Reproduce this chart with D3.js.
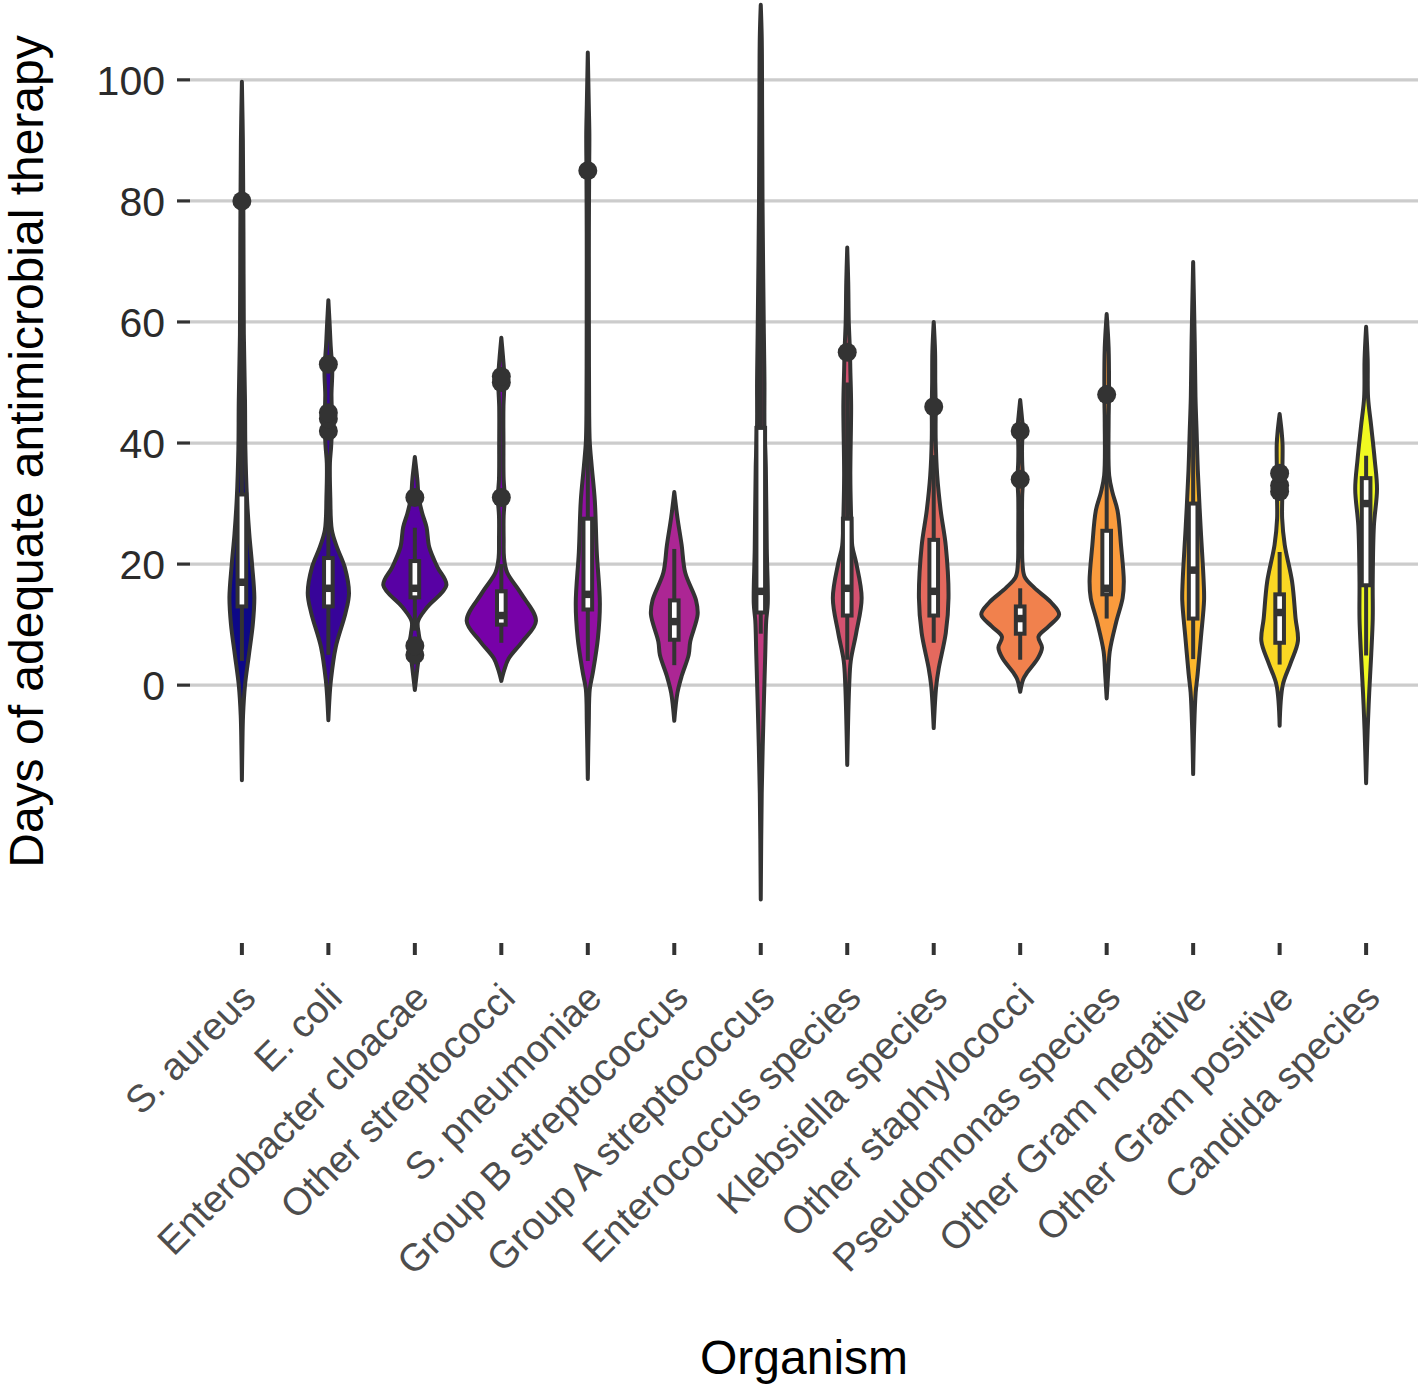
<!DOCTYPE html>
<html><head><meta charset="utf-8">
<script src="https://cdn.jsdelivr.net/npm/d3@7"></script>
<style>body{margin:0;background:#fff}text{font-family:"Liberation Sans",Arial,Helvetica,sans-serif}</style>
</head><body>
<svg id="chart" width="1424" height="1387"></svg>
<script>
const categories = ["S. aureus","E. coli","Enterobacter cloacae","Other streptococci","S. pneumoniae","Group B streptococcus","Group A streptococcus","Enterococcus species","Klebsiella species","Other staphylococci","Pseudomonas species","Other Gram negative","Other Gram positive","Candida species"];
const q1 =          [13,   13, 14.5, 10,   12.5, 7.5, 12,   11.5, 11.5, 8.5, 15,   11, 7,   16.5];
const medians =     [17,   16, 16,   11.5, 15,   10.5,15.5, 16,   15.5, 11,  16,   19, 12,  30];
const q3 =          [31.5, 21, 20.5, 15.5, 27.5, 14,  42.5, 27.5, 24,   13,  25.5, 30, 15,  34.2];
const whiskerLow =  [4,    5,  9,    7,    4,    3.3, 8.5,  4.2,  7,    4.2, 11,   4.3,3.4, 4.9];
const whiskerHigh = [57,   33, 26,   20,   48,   22.5,80,   50,   38,   16,  40,   55, 22,  37.9];
const outliers = [[80],[42,44,45,53],[5,6.5,31],[31,50,51],[85],[],[],[55],[46],[34,42],[48],[],[32,33,35],[]];
// violin density profiles: [value, relative density]
const densities = [
 [[-15.7,0],[-10,0.013],[-5,0.03],[0,0.08],[5,0.18],[10,0.28],[14.5,0.32],[20,0.26],[25,0.19],[31,0.13],[39,0.09],[47,0.08],[58,0.05],[75,0.04],[90,0.025],[99.7,0]],
 [[-5.8,0],[-2,0.03],[0.8,0.065],[6.3,0.19],[11.9,0.44],[15.2,0.53],[19.5,0.42],[22.8,0.22],[25.6,0.09],[31,0.05],[36.7,0.04],[39.3,0.07],[42,0.09],[45,0.09],[48,0.08],[52,0.1],[56,0.06],[60,0.03],[63.6,0]],
 [[-0.8,0],[2,0.05],[3.6,0.08],[6.3,0.15],[8.5,0.1],[10.5,0.08],[12.9,0.32],[16.5,0.81],[19.5,0.58],[22.8,0.37],[26.1,0.3],[28.4,0.19],[31,0.1],[33.9,0.065],[36,0.03],[37.7,0]],
 [[0.7,0],[2.6,0.08],[4.4,0.19],[7.2,0.54],[10.6,0.89],[15.2,0.5],[18.6,0.15],[21,0.07],[24,0.06],[28,0.06],[31,0.09],[34,0.06],[40,0.055],[46,0.055],[50,0.08],[52,0.07],[54.5,0.04],[57.4,0]],
 [[-15.5,0],[-6.4,0.025],[-0.7,0.05],[2.1,0.13],[7.8,0.26],[13.5,0.31],[22,0.23],[30.5,0.18],[36.2,0.1],[40.2,0.05],[45,0.035],[52.6,0.03],[65,0.028],[74.7,0.028],[85,0.035],[91,0.04],[96,0.025],[104.5,0]],
 [[-5.9,0],[-1.3,0.08],[1.5,0.19],[5,0.37],[7.2,0.41],[11.7,0.6],[14,0.56],[18.6,0.28],[23.1,0.19],[27.7,0.08],[31.9,0]],
 [[-35.4,0],[-17.8,0.025],[-6.4,0.065],[5,0.115],[10.6,0.14],[13.5,0.18],[22.5,0.155],[36,0.13],[43,0.095],[50,0.095],[58,0.08],[80,0.045],[95,0.035],[107,0.025],[112.4,0]],
 [[-13.2,0],[-0.1,0.05],[4,0.09],[8.6,0.23],[14.4,0.37],[20.2,0.23],[23,0.13],[27.7,0.1],[34.7,0.08],[46.2,0.1],[52,0.08],[55,0.07],[60,0.04],[66.6,0.025],[72.3,0]],
 [[-7.1,0],[-0.1,0.065],[2.8,0.13],[8.6,0.31],[14.4,0.38],[23,0.31],[28.8,0.18],[34.6,0.09],[40.8,0.05],[46,0.05],[50,0.04],[55,0.035],[60,0]],
 [[-1.1,0],[1,0.08],[2.1,0.18],[4.4,0.45],[6.2,0.56],[8,0.47],[9.7,0.73],[11.7,1.0],[13.7,0.79],[16.1,0.36],[17.9,0.115],[20,0.06],[25,0.05],[31,0.05],[34,0.07],[37,0.05],[40,0.05],[42.2,0.07],[44.5,0.04],[47.1,0]],
 [[-2.2,0],[2,0.04],[5.6,0.08],[10.3,0.24],[14.4,0.41],[17.2,0.44],[23,0.37],[28.8,0.28],[31.8,0.15],[34.6,0.065],[43.4,0.05],[48,0.06],[55.7,0.05],[61.3,0]],
 [[-14.7,0],[-7.3,0.025],[-1.2,0.065],[1.8,0.115],[7.9,0.2],[14,0.28],[17.1,0.27],[26.3,0.19],[35.4,0.12],[41.6,0.09],[47.6,0.06],[56.9,0.04],[69.9,0]],
 [[-6.7,0],[0,0.08],[3.6,0.28],[7.3,0.47],[11,0.41],[17.1,0.32],[23.2,0.13],[27.5,0.065],[32,0.07],[35,0.07],[39.7,0.075],[42,0.05],[44.8,0]],
 [[-16.2,0],[-7.3,0.04],[-1.2,0.08],[4.9,0.13],[11,0.17],[17.1,0.17],[26.3,0.2],[32.4,0.28],[37.3,0.22],[42.8,0.13],[47.6,0.05],[53.8,0.04],[59.2,0]]
];
const yTicks = [0,20,40,60,80,100];
const xTitle = "Organism";
const yTitle = "Days of adequate antimicrobial therapy";

const svg = d3.select("#chart");
const panel = {left:190, right:1418, top:-40, bottom:943};
const x = d3.scalePoint().domain(categories).range([panel.left, panel.right]).padding(0.6);
const step = x.step();
const y = d3.scaleLinear().domain([-42.6, 119.8]).range([panel.bottom, panel.top]);
const color = d3.scaleSequential(d3.interpolatePlasma).domain([0, categories.length-1]);
const dark = "#333333";
const lw = 4;

// grid
svg.append("g").selectAll("line").data(yTicks).join("line")
  .attr("x1", panel.left).attr("x2", panel.right)
  .attr("y1", d=>y(d)).attr("y2", d=>y(d))
  .attr("stroke", "#cccccc").attr("stroke-width", 3.2);

// y axis ticks + labels
const yAxis = svg.append("g");
yAxis.selectAll("line").data(yTicks).join("line")
  .attr("x1", 177).attr("x2", panel.left).attr("y1", d=>y(d)).attr("y2", d=>y(d))
  .attr("stroke", dark).attr("stroke-width", 3.2);
yAxis.selectAll("text").data(yTicks).join("text")
  .attr("x", 165).attr("y", d=>y(d)).attr("dy", "0.36em")
  .attr("text-anchor", "end").attr("font-size", 41).attr("fill", "#2b2b2b")
  .text(d=>d);

// x axis ticks + labels
const xAxis = svg.append("g");
xAxis.selectAll("line").data(categories).join("line")
  .attr("x1", d=>x(d)).attr("x2", d=>x(d)).attr("y1", panel.bottom).attr("y2", panel.bottom+12)
  .attr("stroke", dark).attr("stroke-width", 4);
xAxis.selectAll("text").data(categories).join("text")
  .attr("transform", d=>`translate(${x(d)+16},${1000}) rotate(-45)`)
  .attr("text-anchor", "end").attr("font-size", 38.5).attr("fill", "#4d4d4d")
  .text(d=>d);

// violins
const half = 0.45*step;
categories.forEach((cat, i) => {
  const cx = x(cat);
  const area = d3.area().curve(d3.curveCatmullRom.alpha(0.5))
    .y(d=>y(d[0])).x0(d=>cx - d[1]*half).x1(d=>cx + d[1]*half);
  svg.append("path").datum(densities[i]).attr("d", area)
    .attr("fill", color(i)).attr("stroke", dark).attr("stroke-width", lw).attr("stroke-linejoin","round");
});

// boxplots
const bw = 0.05*step;
categories.forEach((cat, i) => {
  const cx = x(cat);
  const g = svg.append("g");
  g.append("line").attr("x1",cx).attr("x2",cx).attr("y1",y(q3[i])).attr("y2",y(whiskerHigh[i]))
    .attr("stroke",dark).attr("stroke-width",lw);
  g.append("line").attr("x1",cx).attr("x2",cx).attr("y1",y(q1[i])).attr("y2",y(whiskerLow[i]))
    .attr("stroke",dark).attr("stroke-width",lw);
  g.append("rect").attr("x",cx-bw).attr("width",2*bw).attr("y",y(q3[i])).attr("height",y(q1[i])-y(q3[i]))
    .attr("fill","#fff").attr("stroke",dark).attr("stroke-width",lw);
  g.append("line").attr("x1",cx-bw).attr("x2",cx+bw).attr("y1",y(medians[i])).attr("y2",y(medians[i]))
    .attr("stroke",dark).attr("stroke-width",7.5);
  g.selectAll("circle").data(outliers[i]).join("circle")
    .attr("cx",cx).attr("cy",d=>y(d)).attr("r",9.5).attr("fill",dark);
});

// titles
svg.append("text").attr("x", (panel.left+panel.right)/2).attr("y", 1374)
  .attr("text-anchor","middle").attr("font-size",48).attr("fill","#000").text(xTitle);
svg.append("text").attr("transform", `translate(43,${(panel.top+panel.bottom)/2}) rotate(-90)`)
  .attr("text-anchor","middle").attr("font-size",48).attr("fill","#000").text(yTitle);
</script>
</body></html>
